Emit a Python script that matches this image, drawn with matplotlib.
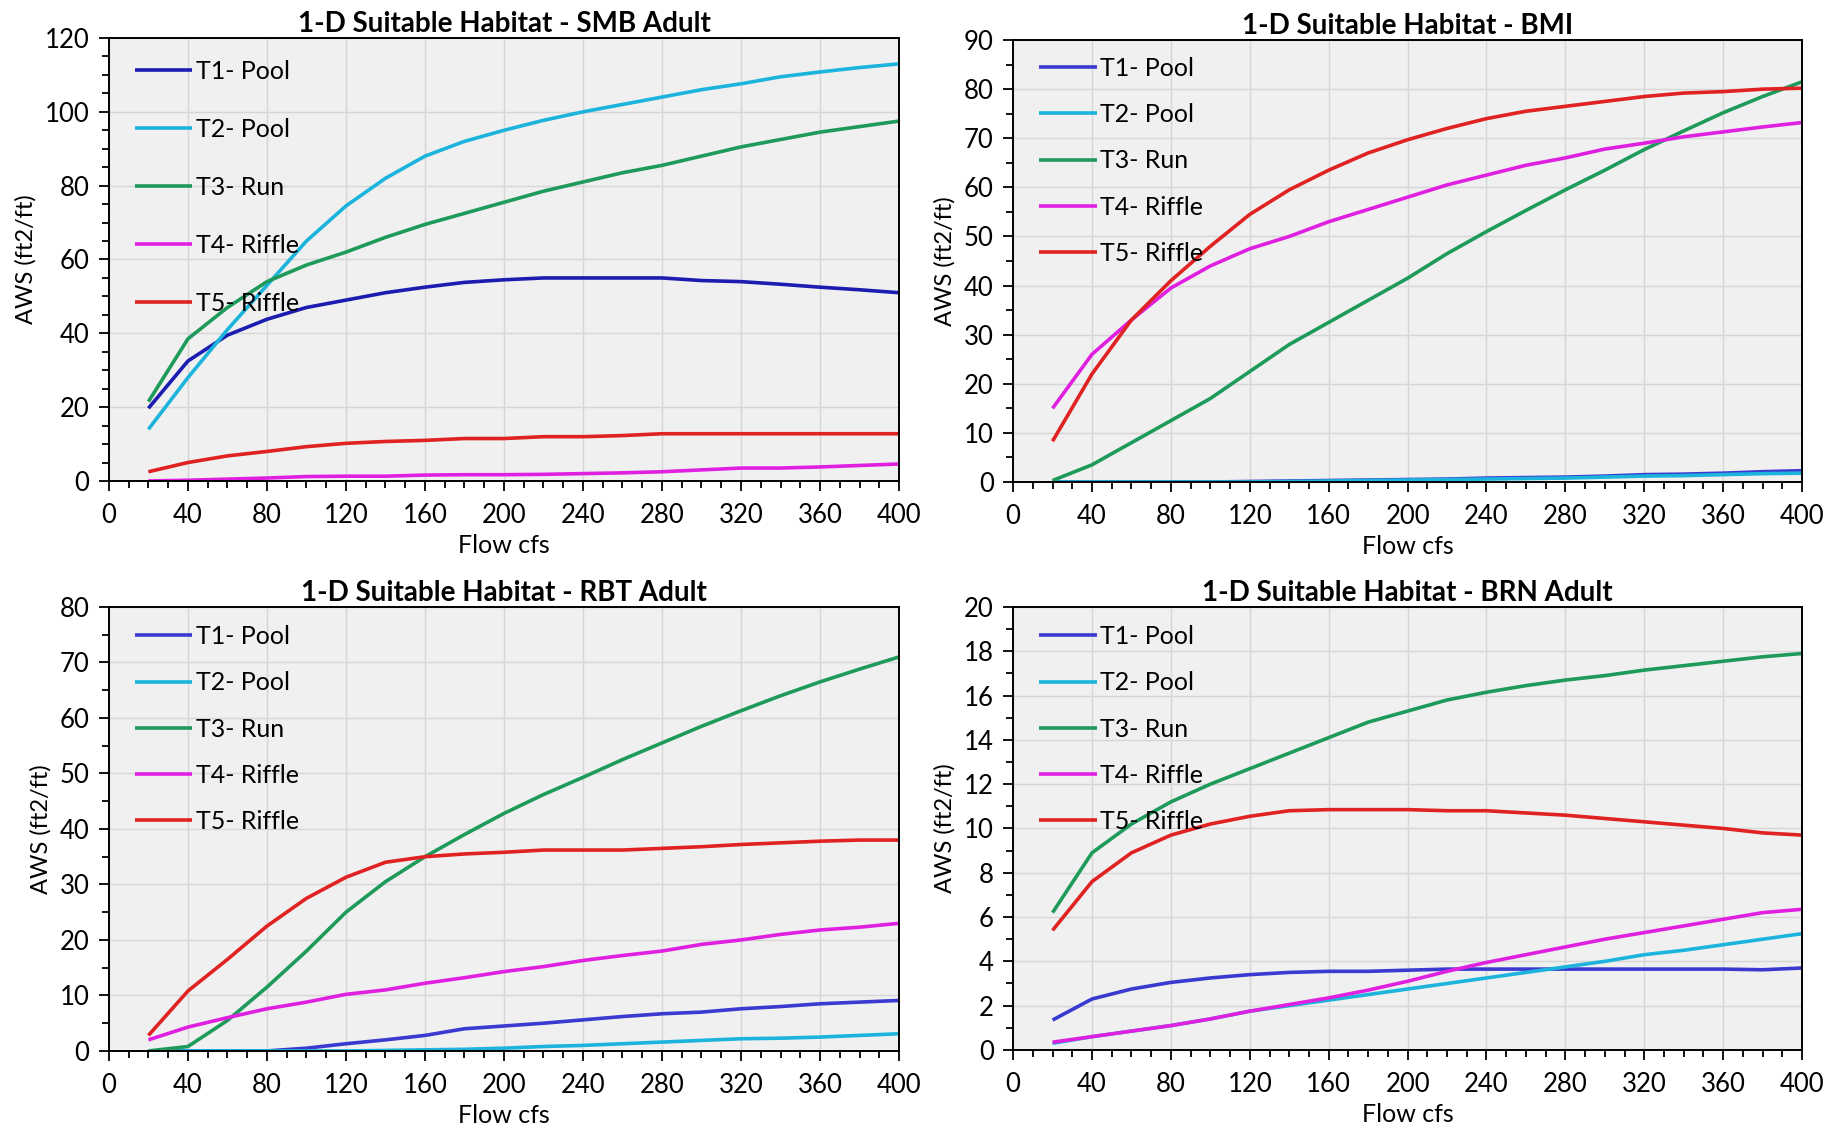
import matplotlib
matplotlib.use("Agg")
import matplotlib.pyplot as plt
from matplotlib.ticker import MultipleLocator

plt.rcParams['font.family'] = ['Lato', 'DejaVu Sans']

flow = [20, 40, 60, 80, 100, 120, 140, 160, 180, 200,
        220, 240, 260, 280, 300, 320, 340, 360, 380, 400]

series_labels = ["T1- Pool", "T2- Pool", "T3- Run", "T4- Riffle", "T5- Riffle"]

# SMB Adult
smb_t1 = [19.7, 32.5, 39.5, 43.8, 47.0, 49.0, 51.0, 52.5, 53.8, 54.5,
          55.0, 55.0, 55.0, 55.0, 54.3, 54.0, 53.3, 52.5, 51.8, 51.0]
smb_t2 = [14.0, 28.0, 41.0, 53.0, 65.0, 74.5, 82.0, 88.0, 92.0, 95.0,
          97.7, 100.0, 102.0, 104.0, 106.0, 107.6, 109.5, 110.8, 112.0, 113.0]
smb_t3 = [21.5, 38.5, 47.0, 54.0, 58.5, 62.0, 66.0, 69.5, 72.5, 75.5,
          78.5, 81.0, 83.5, 85.5, 88.0, 90.5, 92.5, 94.5, 96.0, 97.5]
smb_t4 = [0.0, 0.2, 0.5, 0.8, 1.2, 1.3, 1.3, 1.6, 1.7, 1.7,
          1.8, 2.0, 2.2, 2.5, 3.0, 3.5, 3.5, 3.8, 4.2, 4.6]
smb_t5 = [2.5, 5.0, 6.8, 8.0, 9.3, 10.2, 10.7, 11.0, 11.5, 11.5,
          12.0, 12.0, 12.3, 12.8, 12.8, 12.8, 12.8, 12.8, 12.8, 12.8]

# BMI
bmi_t1 = [0.0, 0.0, 0.0, 0.0, 0.0, 0.1, 0.2, 0.3, 0.4, 0.5,
          0.6, 0.8, 0.9, 1.0, 1.2, 1.5, 1.6, 1.8, 2.1, 2.3]
bmi_t2 = [0.0, 0.0, 0.0, 0.0, 0.0, 0.0, 0.1, 0.2, 0.3, 0.4,
          0.5, 0.6, 0.7, 0.8, 1.0, 1.2, 1.3, 1.5, 1.7, 1.8]
bmi_t3 = [0.3, 3.5, 8.0, 12.5, 17.0, 22.5, 28.0, 32.5, 37.0, 41.5,
          46.5, 51.0, 55.3, 59.5, 63.5, 67.7, 71.5, 75.2, 78.5, 81.5]
bmi_t4 = [15.0, 26.0, 33.0, 39.5, 44.0, 47.5, 50.0, 53.0, 55.5, 58.0,
          60.5, 62.5, 64.5, 66.0, 67.8, 69.0, 70.3, 71.3, 72.3, 73.2]
bmi_t5 = [8.3, 22.0, 33.0, 41.0, 48.0, 54.5, 59.5, 63.5, 67.0, 69.7,
          72.0, 74.0, 75.5, 76.5, 77.5, 78.5, 79.2, 79.5, 80.0, 80.2]

# RBT Adult
rbt_t1 = [0.0, 0.0, 0.0, 0.0, 0.5, 1.3, 2.0, 2.8, 4.0, 4.5,
          5.0, 5.6, 6.2, 6.7, 7.0, 7.6, 8.0, 8.5, 8.8, 9.1]
rbt_t2 = [0.0, 0.0, 0.0, 0.0, 0.0, 0.0, 0.1, 0.2, 0.3, 0.5,
          0.8, 1.0, 1.3, 1.6, 1.9, 2.2, 2.3, 2.5, 2.8, 3.1]
rbt_t3 = [0.0, 0.8, 5.5, 11.5, 18.0, 25.0, 30.5, 35.0, 39.0, 42.8,
          46.2, 49.3, 52.5, 55.5, 58.5, 61.3, 64.0, 66.5, 68.8, 71.0]
rbt_t4 = [2.0, 4.3, 6.0, 7.6, 8.8, 10.2, 11.0, 12.2, 13.2, 14.3,
          15.2, 16.3, 17.2, 18.0, 19.2, 20.0, 21.0, 21.8, 22.3, 23.0]
rbt_t5 = [2.8, 10.8, 16.5, 22.5, 27.5, 31.3, 34.0, 35.0, 35.5, 35.8,
          36.2, 36.2, 36.2, 36.5, 36.8, 37.2, 37.5, 37.8, 38.0, 38.0]

# BRN Adult
brn_t1 = [1.35, 2.3, 2.75, 3.05, 3.25, 3.4, 3.5, 3.55, 3.55, 3.6,
          3.65, 3.65, 3.65, 3.65, 3.65, 3.65, 3.65, 3.65, 3.62, 3.7]
brn_t2 = [0.3, 0.6, 0.85, 1.1, 1.4, 1.75, 2.0, 2.25, 2.5, 2.75,
          3.0, 3.25, 3.5, 3.75, 4.0, 4.3, 4.5, 4.75, 5.0, 5.25]
brn_t3 = [6.2, 8.9, 10.2, 11.2, 12.0, 12.7, 13.4, 14.1, 14.8, 15.3,
          15.8, 16.15, 16.45, 16.7, 16.9, 17.15, 17.35, 17.55, 17.75, 17.9]
brn_t4 = [0.35, 0.6, 0.85, 1.1, 1.4, 1.75, 2.05, 2.35, 2.7, 3.1,
          3.55, 3.95, 4.3, 4.65, 5.0, 5.3, 5.6, 5.9, 6.2, 6.35]
brn_t5 = [5.4, 7.6, 8.9, 9.7, 10.2, 10.55, 10.8, 10.85, 10.85, 10.85,
          10.8, 10.8, 10.7, 10.6, 10.45, 10.3, 10.15, 10.0, 9.8, 9.7]

panel_titles = ["1-D Suitable Habitat - SMB Adult", "1-D Suitable Habitat - BMI",
                "1-D Suitable Habitat - RBT Adult", "1-D Suitable Habitat - BRN Adult"]

colors = ["#2222b8", "#1cb4dc", "#1e9a5a", "#e020e0", "#e02222"]

panels = [
    dict(data=[smb_t1, smb_t2, smb_t3, smb_t4, smb_t5], ymax=120, major=20, minor=5,
         rect=[0.0591, 0.5736, 0.4287, 0.3927], spacing=1.40, top=0.950, t1="#1c1cb0"),
    dict(data=[bmi_t1, bmi_t2, bmi_t3, bmi_t4, bmi_t5], ymax=90, major=10, minor=5,
         rect=[0.5497, 0.5727, 0.4281, 0.3918], spacing=0.93, top=0.962, t1="#3a3ad0"),
    dict(data=[rbt_t1, rbt_t2, rbt_t3, rbt_t4, rbt_t5], ymax=80, major=10, minor=5,
         rect=[0.0591, 0.0683, 0.4287, 0.3936], spacing=0.93, top=0.959, t1="#3a3ad0"),
    dict(data=[brn_t1, brn_t2, brn_t3, brn_t4, brn_t5], ymax=20, major=2, minor=1,
         rect=[0.5497, 0.0692, 0.4281, 0.3927], spacing=0.93, top=0.959, t1="#3a3ad0"),
]

fig = plt.figure(figsize=(18.43, 11.28), dpi=100)
fig.patch.set_facecolor("white")

for title, p in zip(panel_titles, panels):
    ax = fig.add_axes(p["rect"])
    ax.set_facecolor("#f0f0f0")
    cols = [p["t1"]] + colors[1:]
    for vals, lab, c in zip(p["data"], series_labels, cols):
        ax.plot(flow, vals, color=c, lw=2.6, label=lab, solid_capstyle="butt")
    ax.set_xlim(0, 400)
    ax.set_ylim(0, p["ymax"])
    ax.xaxis.set_major_locator(MultipleLocator(40))
    ax.xaxis.set_minor_locator(MultipleLocator(10))
    ax.yaxis.set_major_locator(MultipleLocator(p["major"]))
    ax.yaxis.set_minor_locator(MultipleLocator(p["minor"]))
    ax.grid(True, which="major", color="#d6d6d6", lw=1.0)
    ax.set_axisbelow(True)
    ax.tick_params(axis="x", which="major", pad=9)
    ax.tick_params(axis="y", which="major", pad=7)
    ax.tick_params(axis="both", which="major", direction="out", length=7, width=1.3,
                   labelsize=18.5, colors="black")
    ax.tick_params(axis="both", which="minor", direction="out", length=5, width=1.3)
    for s in ax.spines.values():
        s.set_color("black")
        s.set_linewidth(1.4)
    ax.set_title(title, fontsize=20, fontweight="bold", pad=4)
    ax.set_xlabel("Flow cfs", fontsize=18, labelpad=4)
    ax.set_ylabel("AWS (ft2/ft)", fontsize=17, labelpad=6)
    ax.legend(loc="upper left", bbox_to_anchor=(0.033, p["top"]), frameon=False,
              fontsize=18, handlelength=2.3, handletextpad=0.15,
              labelspacing=p["spacing"], borderpad=0.0, borderaxespad=0.0)

fig.savefig("out.png", dpi=100, facecolor="white")
